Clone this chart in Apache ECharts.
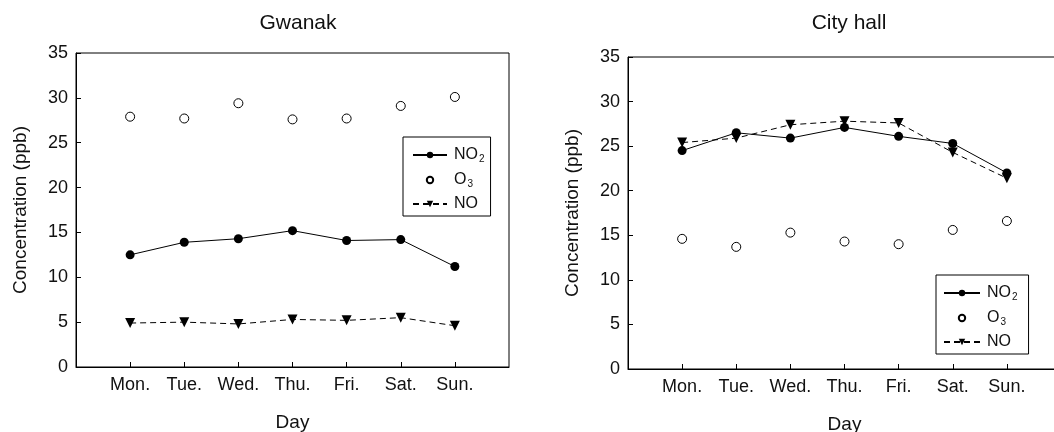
<!DOCTYPE html>
<html>
<head>
<meta charset="utf-8">
<script src="https://cdn.jsdelivr.net/npm/echarts@6/dist/echarts.min.js"></script>
<style>
  html, body { margin: 0; padding: 0; background: #fff; }
  #main { width: 1054px; height: 432px; }
</style>
</head>
<body>
<div id="main"></div>
<script>
// 数据
var days = ['Mon.', 'Tue.', 'Wed.', 'Thu.', 'Fri.', 'Sat.', 'Sun.'];
var gwanakNO2 = [12.5, 13.9, 14.3, 15.2, 14.1, 14.2, 11.2];
var gwanakO3 = [27.9, 27.7, 29.4, 27.6, 27.7, 29.1, 30.1];
var gwanakNO = [4.9, 5.0, 4.8, 5.3, 5.2, 5.5, 4.6];
var cityNO2 = [24.5, 26.5, 25.9, 27.1, 26.1, 25.3, 22.0];
var cityO3 = [14.6, 13.7, 15.3, 14.3, 14.0, 15.6, 16.6];
var cityNO = [25.4, 25.9, 27.4, 27.8, 27.6, 24.3, 21.4];
var yMin = 0, yMax = 35, yStep = 5;

var font = 'Liberation Sans, Arial, sans-serif';
// 两边各空一格
var xCats = [''].concat(days, ['']);

function pairs(arr) {
  return days.map(function (d, i) { return [d, arr[i]]; });
}

function xAxis(idx) {
  return {
    type: 'category', gridIndex: idx, data: xCats, boundaryGap: false,
    name: 'Day', nameLocation: 'middle', nameGap: 46,
    nameTextStyle: { fontFamily: font, fontSize: 19, color: '#111' },
    axisLine: { lineStyle: { color: '#000', width: 1 } },
    axisTick: { inside: true, length: 5, lineStyle: { color: '#000' },
      interval: function (i) { return i > 0 && i < xCats.length - 1; } },
    axisLabel: { fontFamily: font, fontSize: 18, color: '#111', margin: 9,
      interval: 0 },
    splitLine: { show: false }
  };
}

function yAxis(idx) {
  return {
    type: 'value', gridIndex: idx, min: yMin, max: yMax, interval: yStep,
    name: 'Concentration (ppb)', nameLocation: 'middle', nameGap: 46,
    nameTextStyle: { fontFamily: font, fontSize: 19, color: '#111' },
    axisLine: { show: true, lineStyle: { color: '#000', width: 1 } },
    axisTick: { show: true, inside: true, length: 5, lineStyle: { color: '#000' } },
    axisLabel: { fontFamily: font, fontSize: 18, color: '#111', margin: 8 },
    splitLine: { show: false }
  };
}

function seriesFor(idx, no2, o3, no) {
  return [{
    name: 'NO2', type: 'line', xAxisIndex: idx, yAxisIndex: idx,
    data: pairs(no2), symbol: 'circle', symbolSize: 9,
    itemStyle: { color: '#000' }, lineStyle: { color: '#000', width: 1 }
  }, {
    name: 'O3', type: 'line', xAxisIndex: idx, yAxisIndex: idx,
    data: pairs(o3), symbol: 'circle', symbolSize: 9,
    itemStyle: { color: '#fff', borderColor: '#000', borderWidth: 1 },
    lineStyle: { width: 0, opacity: 0 }
  }, {
    name: 'NO', type: 'line', xAxisIndex: idx, yAxisIndex: idx,
    data: pairs(no), symbol: 'triangle', symbolRotate: 180, symbolSize: 10,
    itemStyle: { color: '#000' },
    lineStyle: { color: '#000', width: 1, type: [6, 4] }
  }];
}

function legendAt(left, top, padL, padR, iconW) {
  return {
    orient: 'vertical', left: left, top: top,
    data: ['NO2', 'O3', 'NO'],
    itemWidth: iconW, itemHeight: 8, itemGap: 7,
    padding: [9, padR, 4, padL],
    borderColor: '#000', borderWidth: 1,
    formatter: function (name) {
      var sub = name.match(/\d/);
      return '{n|' + name.replace(/\d/, '') + '}' + (sub ? '{s|' + sub[0] + '}' : '');
    },
    textStyle: {
      fontFamily: font, color: '#111',
      rich: {
        n: { fontFamily: font, fontSize: 16, color: '#111', lineHeight: 20, padding: [0, 0, 0, 2] },
        s: { fontFamily: font, fontSize: 10, color: '#111', lineHeight: 20, padding: [8, 0, 0, 1] }
      }
    }
  };
}

var chart = echarts.init(document.getElementById('main'), null, { renderer: 'canvas' });
var option = {
  backgroundColor: '#fff',
  animation: false,
  title: [
    { text: 'Gwanak', left: 298, top: 13, textAlign: 'center', padding: 0,
      textStyle: { fontFamily: font, fontSize: 21, fontWeight: 'normal', color: '#111' } },
    { text: 'City hall', left: 849, top: 13, textAlign: 'center', padding: 0,
      textStyle: { fontFamily: font, fontSize: 21, fontWeight: 'normal', color: '#111' } }
  ],
  grid: [
    { left: 76, top: 53, width: 433, height: 314, outerBoundsMode: 'none',
      show: true, borderColor: '#000', borderWidth: 1, backgroundColor: 'transparent' },
    { left: 628, top: 57, width: 433, height: 312, outerBoundsMode: 'none',
      show: true, borderColor: '#000', borderWidth: 1, backgroundColor: 'transparent' }
  ],
  legend: [legendAt(403, 137, 9, 6, 34), legendAt(936, 275, 7, 11, 36)],
  xAxis: [xAxis(0), xAxis(1)],
  yAxis: [yAxis(0), yAxis(1)],
  series: seriesFor(0, gwanakNO2, gwanakO3, gwanakNO).concat(seriesFor(1, cityNO2, cityO3, cityNO))
};
chart.setOption(option);
</script>
</body>
</html>
